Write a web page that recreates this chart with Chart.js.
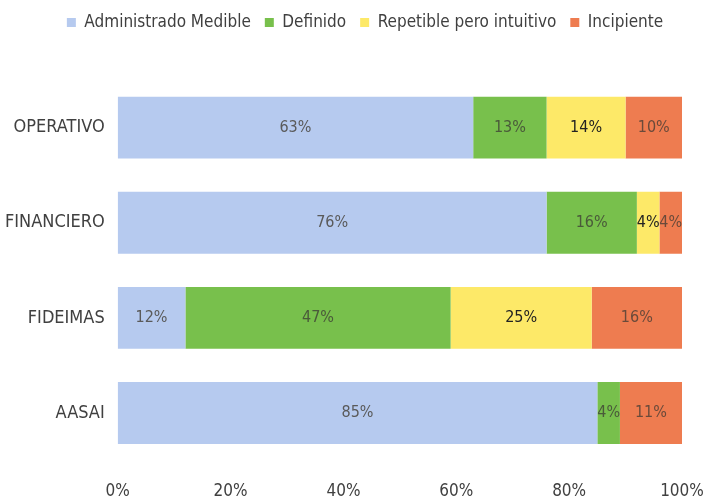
<!DOCTYPE html>
<html>
<head>
<meta charset="utf-8">
<script src="https://cdn.jsdelivr.net/npm/chart.js@4"></script>
<style>
  html, body { margin: 0; padding: 0; background: #fff; }
  #wrap { width: 704px; height: 504px; }
</style>
</head>
<body>
<div id="wrap"><canvas id="madurezChart"></canvas></div>
<script>
// Categories and series values (percent)
const categories = ['OPERATIVO', 'FINANCIERO', 'FIDEIMAS', 'AASAI'];
const seriesNames = ['Administrado Medible', 'Definido', 'Repetible pero intuitivo', 'Incipiente'];
const administrado = [63, 76, 12, 85];
const definido = [13, 16, 47, 4];
const repetible = [14, 4, 25, 0];
const incipiente = [10, 4, 16, 11];
const xTicks = [0, 20, 40, 60, 80, 100];

const colors = ['#b6caef', '#78c04c', '#fde968', '#ee7c50'];
const labelColors = ['#5a5a5a', '#4a5a3a', '#222222', '#6a4a3a'];
const fontFamily = "'Liberation Sans Narrow', 'DejaVu Sans Condensed', 'Arial Narrow', sans-serif";

// Draw value labels in the middle of each segment
const segmentLabels = {
    id: 'segmentLabels',
    afterDatasetsDraw(chart) {
        const ctx = chart.ctx;
        ctx.save();
        ctx.font = '16px ' + fontFamily;
        ctx.textAlign = 'center';
        ctx.textBaseline = 'middle';
        chart.data.datasets.forEach((ds, i) => {
            chart.getDatasetMeta(i).data.forEach((bar, j) => {
                const v = ds.data[j];
                if (!v) return;
                const p = bar.getProps(['x', 'y', 'base'], true);
                ctx.fillStyle = labelColors[i];
                ctx.fillText(v + '%', (p.x + p.base) / 2, p.y);
            });
        });
        ctx.restore();
    }
};

// Extra room under the legend, and nudge it a bit to the right
const legendSpace = {
    id: 'legendSpace',
    beforeInit(chart) {
        const fit = chart.legend.fit;
        chart.legend.fit = function () {
            fit.bind(chart.legend)();
            this.height += 39;
        };
    },
    afterLayout(chart) {
        chart.legend.left += 26;
    }
};

const ctx = document.getElementById('madurezChart').getContext('2d');
new Chart(ctx, {
    type: 'bar',
    data: {
        labels: categories,
        datasets: [
            { label: seriesNames[0], data: administrado, backgroundColor: colors[0] },
            { label: seriesNames[1], data: definido, backgroundColor: colors[1] },
            { label: seriesNames[2], data: repetible, backgroundColor: colors[2] },
            { label: seriesNames[3], data: incipiente, backgroundColor: colors[3] }
        ].map(d => Object.assign(d, { categoryPercentage: 1, barPercentage: 0.65, borderWidth: 0 }))
    },
    options: {
        indexAxis: 'y',
        responsive: true,
        maintainAspectRatio: false,
        animation: false,
        layout: { padding: { top: 0, left: 0, right: 0, bottom: 0 } },
        scales: {
            x: {
                stacked: true,
                min: 0,
                max: 100,
                afterBuildTicks: axis => { axis.ticks = xTicks.map(v => ({ value: v })); },
                afterFit: axis => {
                    axis.paddingLeft = 0;
                    axis.paddingRight = 22;
                    axis.height -= 11;
                },
                grid: { display: false },
                border: { display: false },
                ticks: {
                    padding: 13,
                    color: '#404040',
                    font: { family: fontFamily, size: 17 },
                    callback: v => v + '%'
                }
            },
            y: {
                stacked: true,
                afterFit: axis => { axis.paddingTop = 0; axis.paddingBottom = 0; },
                grid: { display: false },
                border: { display: false },
                ticks: {
                    padding: 5,
                    color: '#404040',
                    font: { family: fontFamily, size: 18 }
                }
            }
        },
        plugins: {
            legend: {
                position: 'top',
                labels: {
                    boxWidth: 9,
                    boxHeight: 9,
                    padding: 14,
                    color: '#404040',
                    font: { family: fontFamily, size: 17 }
                }
            },
            tooltip: { enabled: false }
        }
    },
    plugins: [segmentLabels, legendSpace]
});
</script>
</body>
</html>
